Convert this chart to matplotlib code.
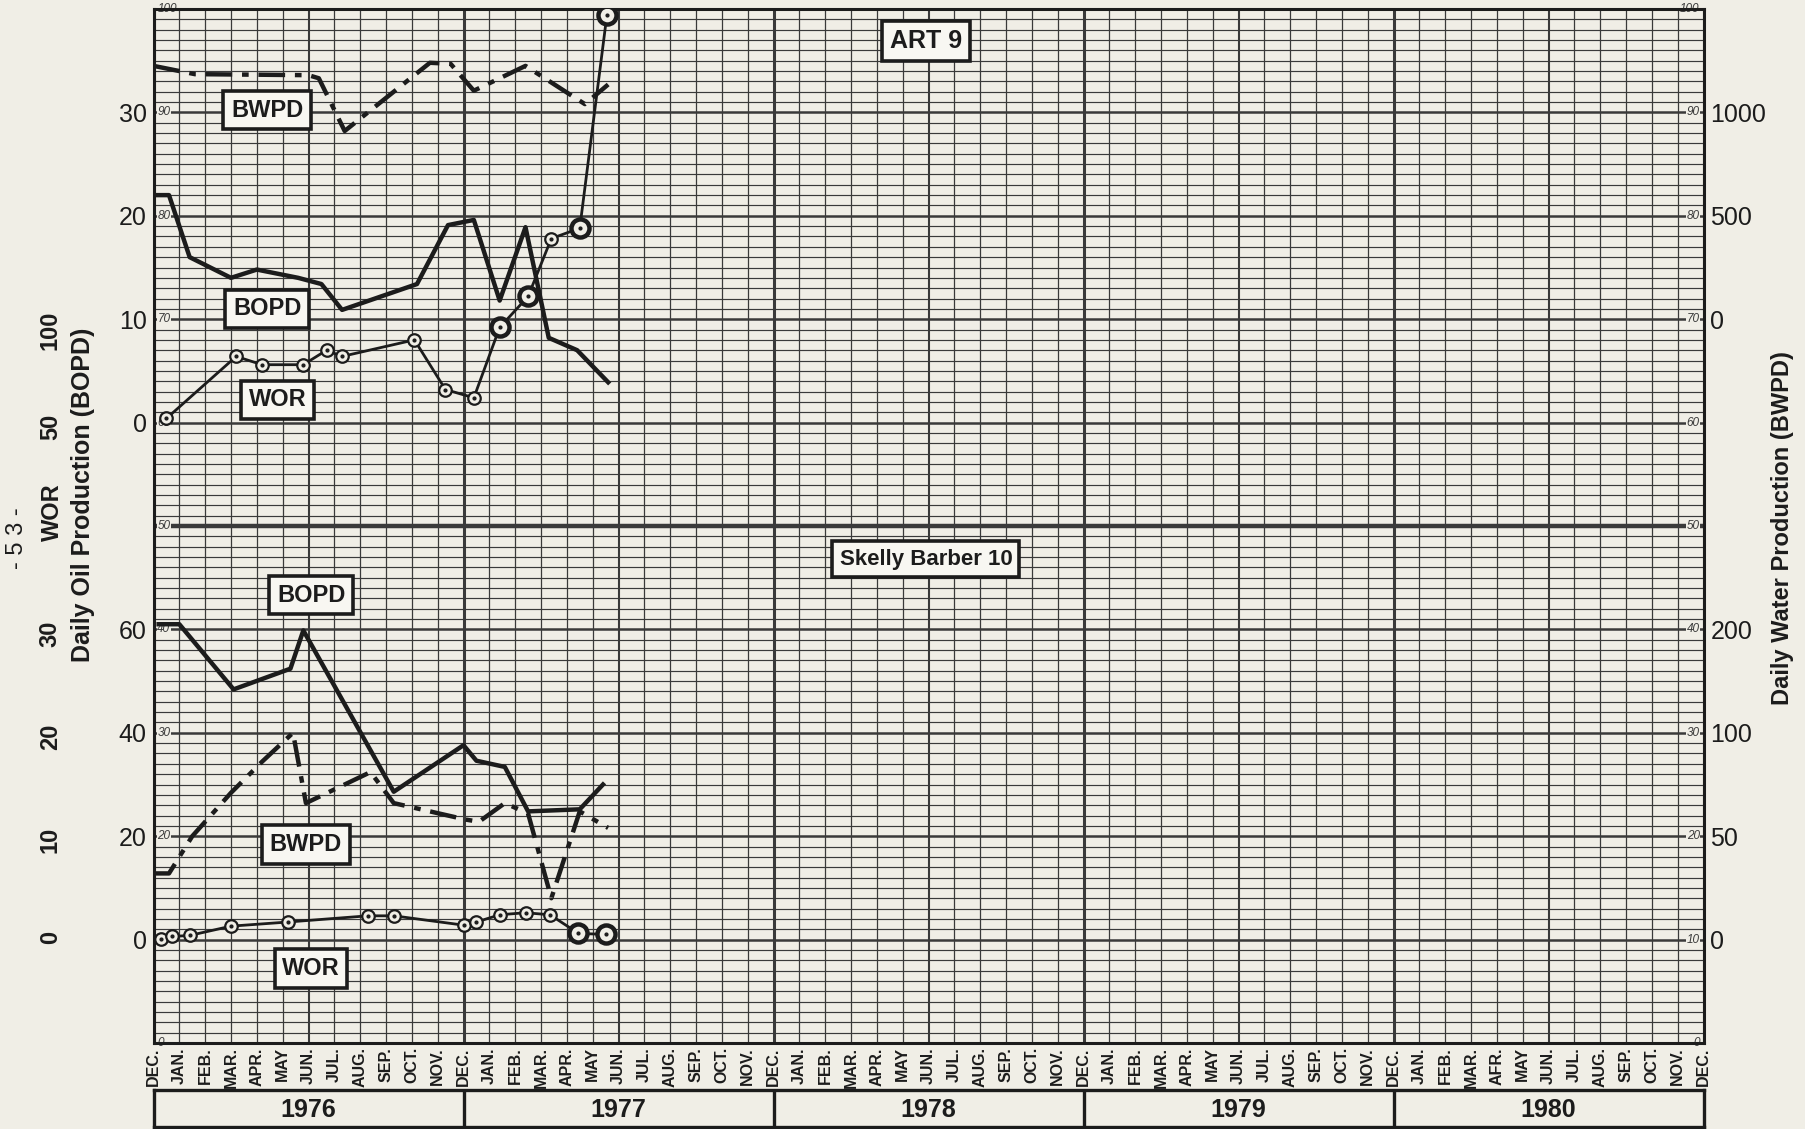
import numpy as np
import matplotlib.pyplot as plt
from matplotlib.ticker import NullLocator

plt.rcParams['font.family'] = ['Liberation Sans', 'DejaVu Sans']

PAPER = '#f0eee6'
INK = '#1c1c1c'
GRID = '#3a3a3a'

# month axis: 0 = DEC 1975, one unit per month through DEC 1980
month_names = ['JAN.', 'FEB.', 'MAR.', 'APR.', 'MAY', 'JUN.',
               'JUL.', 'AUG.', 'SEP.', 'OCT.', 'NOV.', 'DEC.']
month_labels = ['DEC.'] + month_names * 5
month_labels[52] = 'AFR.'   # misprint on the 1980 sheet
years = [1976, 1977, 1978, 1979, 1980]

# ART 9 (upper panel)
art_bopd_month = [0.0, 0.6, 1.4, 3.0, 4.0, 5.6, 6.5, 7.3, 10.2, 11.4, 12.4, 13.4, 14.4, 15.3, 16.4, 17.6]
art_bopd = [22.0, 22.0, 16.0, 14.0, 14.8, 14.0, 13.4, 10.9, 13.4, 19.1, 19.6, 11.8, 18.9, 8.2, 7.0, 3.9]

art_bwpd_month = [0.0, 1.6, 6.0, 6.4, 7.4, 10.7, 11.5, 12.4, 14.4, 16.7, 17.6]
art_bwpd = [1225, 1185, 1180, 1165, 910, 1240, 1235, 1105, 1225, 1040, 1135]

art_wor_month = [0.5, 3.2, 4.2, 5.8, 6.7, 7.3, 10.1, 11.3, 12.4, 13.4, 14.5, 15.4, 16.5, 17.55]
art_wor = [52, 82, 78, 78, 85, 82, 90, 66, 62, 96, 111, 139, 144, 247]
art_wor_heavy = [9, 10, 12, 13]

# Skelly Barber 10 (lower panel)
sb_bopd_month = [0.2, 1.0, 3.1, 5.3, 5.8, 9.3, 12.0, 12.5, 13.6, 14.5, 16.5, 17.4]
sb_bopd = [61, 61, 48.4, 52.4, 59.8, 28.6, 37.6, 34.6, 33.4, 24.8, 25.2, 30]

sb_bwpd_month = [0.0, 0.6, 1.5, 3.0, 4.2, 5.4, 5.9, 8.4, 9.3, 12.1, 12.6, 13.6, 14.5, 15.4, 16.5, 17.6]
sb_bwpd = [32, 32, 50, 71, 86, 100, 66, 81, 66, 58, 57, 66, 61, 20, 62, 54]

sb_wor_month = [0.3, 0.7, 1.4, 3.0, 5.2, 8.3, 9.3, 12.0, 12.5, 13.4, 14.4, 15.35, 16.45, 17.5]
sb_wor = [0.1, 0.3, 0.4, 1.3, 1.7, 2.3, 2.3, 1.4, 1.7, 2.4, 2.6, 2.4, 0.6, 0.5]
sb_wor_heavy = [12, 13]

# printed water scale of the lower panel (0, 50, 100, 200 on the 10-unit rulings)
water_ticks = [0, 50, 100, 200]
water_rulings = [10, 20, 30, 40]

fig = plt.figure(figsize=(18.05, 11.29), dpi=100, facecolor=PAPER)
L, R = 153.5 / 1805, 1703.5 / 1805
B, T = 1 - 1043 / 1129, 1 - 9 / 1129
ax = fig.add_axes([L, B, R - L, T - B])
ax.set_xlim(0, 60)
ax.set_ylim(0, 100)
ax.set_facecolor(PAPER)

# graph paper rulings
for v in range(61):
    lw = 2.2 if v % 12 == 0 else (1.5 if v % 6 == 0 else 0.9)
    ax.axvline(v, color=GRID, lw=lw, zorder=1)
for p in range(101):
    lw = 3.2 if p == 50 else (1.8 if p % 10 == 0 else 0.85)
    ax.axhline(p, color=GRID, lw=lw, zorder=1)
for s in ax.spines.values():
    s.set_linewidth(2.2)
    s.set_color(INK)

for p in range(0, 101, 10):
    for x, ha in ((0.15, 'left'), (59.85, 'right')):
        ax.text(x, p, str(p), ha=ha, va='center', fontsize=8.5, style='italic',
                color=GRID, zorder=2,
                bbox=dict(fc=PAPER, ec='none', pad=0.4))


def overlay(lo, hi, side):
    tw = ax.twinx()
    tw.set_ylim(lo, hi)
    for s in tw.spines.values():
        s.set_visible(False)
    if side == 'left':
        tw.yaxis.tick_left()
    tw.tick_params(axis='y', length=0, labelsize=18, colors=INK, pad=5)
    return tw


def rotated_wor_ticks(tw, ticks):
    tw.set_yticks(ticks)
    tw.tick_params(axis='y', labelrotation=90, pad=66, labelsize=17)
    for lbl in tw.get_yticklabels():
        lbl.set_fontweight('bold')


top_oil = overlay(-60, 40, 'left')
top_oil.set_yticks([0, 10, 20, 30])
top_wor = overlay(-250, 250, 'left')
rotated_wor_ticks(top_wor, [50, 100])
top_water = overlay(-3500, 1500, 'right')
top_water.set_yticks([0, 500, 1000])

low_oil = overlay(-20, 180, 'left')
low_oil.set_yticks([0, 20, 40, 60])
low_wor = overlay(-10, 90, 'left')
rotated_wor_ticks(low_wor, [0, 10, 20, 30])

low_water = ax.twinx()
vals = [-50] + water_ticks + [1400]
rul = [0] + water_rulings + [100]
low_water.set_yscale('function', functions=(lambda v: np.interp(v, vals, rul),
                                            lambda r: np.interp(r, rul, vals)))
low_water.set_ylim(-50, 1400)
for s in low_water.spines.values():
    s.set_visible(False)
low_water.set_yticks(water_ticks)
low_water.yaxis.set_minor_locator(NullLocator())
low_water.tick_params(axis='y', length=0, labelsize=18, colors=INK, pad=5)

ax.set_xticks(np.arange(61))
ax.set_xticklabels(month_labels, rotation=90, fontsize=11.5, fontweight='bold')
ax.tick_params(axis='x', length=0, pad=3, colors=INK)
ax.tick_params(axis='y', left=False, labelleft=False)

bwpd_dash = (6, 2.2, 1.5, 2.2)


def wor_line(axis, xs, ys, heavy):
    axis.plot(xs, ys, color=INK, lw=2.0, marker='o', ms=9, mfc=PAPER, mec=INK,
              mew=1.6, zorder=4)
    hx = [xs[i] for i in heavy]
    hy = [ys[i] for i in heavy]
    axis.plot(hx, hy, ls='none', marker='o', ms=13, mfc=PAPER, mec=INK, mew=3.2, zorder=5)
    axis.plot(xs, ys, ls='none', marker='.', ms=4, color=INK, zorder=6)


top_oil.plot(art_bopd_month, art_bopd, color=INK, lw=3.2, zorder=4)
top_water.plot(art_bwpd_month, art_bwpd, color=INK, lw=3.2, dashes=bwpd_dash, zorder=4)
wor_line(top_wor, art_wor_month, art_wor, art_wor_heavy)

low_oil.plot(sb_bopd_month, sb_bopd, color=INK, lw=3.2, zorder=4)
low_water.plot(sb_bwpd_month, sb_bwpd, color=INK, lw=3.2, dashes=bwpd_dash, zorder=4)
wor_line(low_wor, sb_wor_month, sb_wor, sb_wor_heavy)


def box(x, y, s, size=17):
    low_water.text(x, y, s, transform=ax.transData, ha='center', va='center',
                   fontsize=size, fontweight='bold', color=INK, zorder=10,
                   bbox=dict(boxstyle='square,pad=0.32', fc='#f8f7f2', ec=INK, lw=2.6))


box(29.9, 96.9, 'ART 9', 18)
box(29.9, 46.8, 'Skelly Barber 10', 16)
box(4.4, 90.2, 'BWPD')
box(4.4, 71.0, 'BOPD')
box(4.8, 62.2, 'WOR')
box(6.1, 43.3, 'BOPD')
box(5.9, 19.2, 'BWPD')
box(6.1, 7.2, 'WOR')

# year strip under the month names
yax = fig.add_axes([L, 2 / 1129, R - L, 37 / 1129])
yax.set_xlim(0, 60)
yax.set_ylim(0, 1)
yax.set_facecolor(PAPER)
yax.set_xticks([])
yax.set_yticks([])
for s in yax.spines.values():
    s.set_linewidth(2.4)
    s.set_color(INK)
for k in range(1, 5):
    yax.axvline(12 * k, color=INK, lw=2.4)
for i, yr in enumerate(years):
    yax.text(12 * i + 6, 0.45, str(yr), ha='center', va='center', fontsize=18,
             fontweight='bold', color=INK)

fig.text(83 / 1805, 0.562, 'Daily Oil Production (BOPD)', rotation=90, ha='center',
         va='center', fontsize=18, fontweight='bold', color=INK)
fig.text(52 / 1805, 0.5465, 'WOR', rotation=90, ha='center', va='center',
         fontsize=17, fontweight='bold', color=INK)
fig.text(17 / 1805, 0.523, '- 5 3 -', rotation=90, ha='center', va='center',
         fontsize=17, color=INK)
fig.text(1782 / 1805, 0.532, 'Daily Water Production (BWPD)', rotation=90,
         ha='center', va='center', fontsize=17, fontweight='bold', color=INK)

fig.savefig('out.png', dpi=100, facecolor=PAPER)
